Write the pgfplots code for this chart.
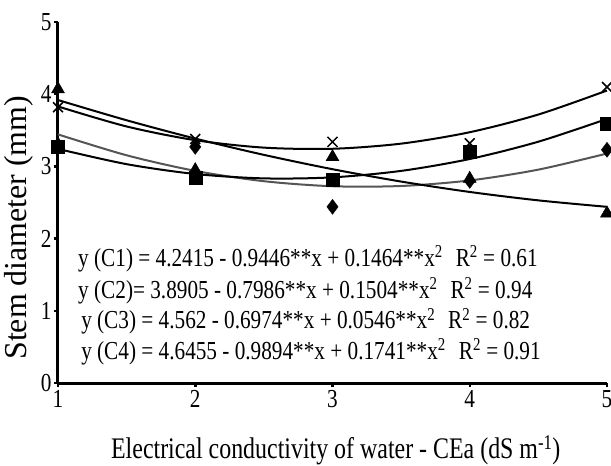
\documentclass[border=0pt]{standalone}
\usepackage{fontspec}
\setmainfont{Liberation Serif}
\newfontfamily\eqfont{Liberation Serif}[FakeStretch=0.82]
\newfontfamily\labfont{Liberation Serif}[FakeStretch=0.80]
\usepackage{pgfplots}
\usepackage{pgfplotstable}
\pgfplotsset{compat=1.18}

\definecolor{fitgray}{RGB}{85,85,85}

% Observed means for each cultivar
\pgfplotstableread{
x    c1    c2    c3    c4
1    3.30  3.27  4.07  3.82
2    3.27  2.84  2.95  3.38
3    2.44  2.81  3.13  3.34
4    2.80  3.21  2.83  3.32
5    3.23  3.59  2.35  4.10
}\obs

% Fitted quadratic regressions, evaluated along the conductivity range
\pgfplotstableread{
x    f1      f2      f3      f4
1.0  3.4433  3.2423  3.9192  3.8302
1.5  3.1540  3.0310  3.6388  3.5531
2.0  2.9379  2.8949  3.3856  3.3631
2.5  2.7950  2.8340  3.1598  3.2601
3.0  2.7253  2.8483  2.9612  3.2442
3.5  2.7288  2.9378  2.7900  3.3153
4.0  2.8055  3.1025  2.6460  3.4735
4.5  2.9554  3.3424  2.5294  3.7187
5.0  3.1785  3.6575  2.4400  4.0510
}\fits

\begin{document}
\begin{tikzpicture}
\begin{axis}[
  width=549bp, height=361bp, scale only axis,
  xmin=1, xmax=5, ymin=0, ymax=5,
  xtick={1,2,3,4,5}, ytick={0,1,2,3,4,5},
  axis lines=left,
  axis line style={-, line width=3bp, black},
  tick style={line width=2.5bp, black},
  major tick length=4bp,
  tick align=outside,
  tick label style={font=\eqfont\fontsize{26}{30}\selectfont},
  yticklabel style={xshift=1bp},
  /pgf/number format/assume math mode=true,
  xlabel={Electrical conductivity of water - CEa (dS m\textsuperscript{-1})},
  ylabel={Stem diameter (mm)},
  x label style={at={(axis description cs:0.506,-0.208)}, anchor=base,
                 font=\labfont\fontsize{30}{36}\selectfont},
  y label style={at={(axis description cs:-0.071,0.43)}, anchor=center,
                 font=\fontsize{32}{38}\selectfont},
  clip=false,
]
\coordinate (bl) at (rel axis cs:0,0);
\coordinate (tr) at (rel axis cs:1,1);

% regression curves
\addplot[fitgray, line width=2bp, smooth] table[x=x, y=f1]{\fits};
\addplot[black, line width=2bp, smooth] table[x=x, y=f2]{\fits};
\addplot[black, line width=2bp, smooth] table[x=x, y=f3]{\fits};
\addplot[black, line width=2bp, smooth] table[x=x, y=f4]{\fits};

% observed points
\addplot[only marks, mark=diamond*, mark size=7.5bp, black] table[x=x, y=c1]{\obs};
\addplot[only marks, mark=square*, mark size=6.5bp, black] table[x=x, y=c2]{\obs};
\addplot[only marks, mark=triangle*, mark size=7.5bp, black] table[x=x, y=c3]{\obs};
\addplot[only marks, mark=x, mark size=7bp, black, mark options={line width=1.5bp}] table[x=x, y=c4]{\obs};

% regression equations
\begin{scope}[every node/.style={anchor=base west, inner sep=0pt,
    font=\eqfont\fontsize{26}{31}\selectfont}]
\node at (axis cs:1.146,1.607) {y (C1) = 4.2415 - 0.9446**x + 0.1464**x\textsuperscript{2}\hspace{0.5em}R\textsuperscript{2} = 0.61};
\node at (axis cs:1.146,1.177) {y (C2)= 3.8905 - 0.7986**x + 0.1504**x\textsuperscript{2}\hspace{0.5em}R\textsuperscript{2} = 0.94};
\node at (axis cs:1.168,0.748) {y (C3) = 4.562 - 0.6974**x + 0.0546**x\textsuperscript{2}\hspace{0.5em}R\textsuperscript{2} = 0.82};
\node at (axis cs:1.168,0.319) {y (C4) = 4.6455 - 0.9894**x + 0.1741**x\textsuperscript{2}\hspace{0.5em}R\textsuperscript{2} = 0.91};
\end{scope}
\end{axis}
\pgfresetboundingbox
\path[use as bounding box] ([shift={(-58bp,-83bp)}]bl) rectangle ([shift={(4bp,22bp)}]tr);
\end{tikzpicture}
\end{document}
